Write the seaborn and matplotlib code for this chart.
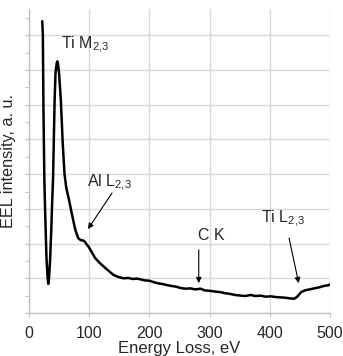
import matplotlib
matplotlib.use("Agg")
import matplotlib.pyplot as plt
import seaborn as sns
import pandas as pd
from matplotlib.ticker import MultipleLocator

energy = [22, 23, 24, 25.5, 27, 29, 31, 32, 33, 35, 37, 38.5, 40, 42.5, 44, 46, 47, 48, 50,
          53, 56, 59, 62, 66, 71, 77, 82, 86, 90, 93, 96, 99, 104, 110, 117, 124, 132,
          140, 148, 157, 165, 172, 180, 185, 192, 200, 207, 213, 220, 228, 236, 244,
          252, 260, 268, 276, 285, 292, 300, 308, 318, 326, 334, 342, 352, 360, 368,
          376, 385, 393, 402, 410, 418, 426, 434, 440, 445, 452, 458, 466, 474, 482,
          490, 497, 502]
intensity = [8.41, 8.0, 5.9, 3.83, 2.8, 1.6, 1.0, 0.84, 0.95, 1.5, 2.4, 3.2, 3.9, 6.1, 6.9,
             7.2, 7.25, 7.2, 6.9, 6.1, 4.9, 4.0, 3.6, 3.3, 2.87, 2.39, 2.15, 2.10, 2.09,
             2.05, 1.97, 1.91, 1.76, 1.58, 1.45, 1.34, 1.22, 1.10, 1.04, 1.00, 1.01,
             0.98, 0.99, 0.97, 0.94, 0.93, 0.89, 0.86, 0.84, 0.81, 0.78, 0.76, 0.72,
             0.70, 0.71, 0.68, 0.70, 0.65, 0.64, 0.62, 0.60, 0.57, 0.55, 0.52, 0.50,
             0.49, 0.52, 0.49, 0.50, 0.47, 0.48, 0.46, 0.45, 0.44, 0.42, 0.41, 0.46,
             0.60, 0.65, 0.68, 0.71, 0.74, 0.78, 0.80, 0.83]

x_ticks = [0, 100, 200, 300, 400, 500]

labels = ["Ti M$_{\\mathregular{2{,}3}}$", "Al L$_{\\mathregular{2{,}3}}$", "C K",
          "Ti L$_{\\mathregular{2{,}3}}$"]
label_xy = [(53, 7.72), (97, 3.75), (280, 2.22), (385, 2.71)]
arrow_tail = [None, (138, 3.46), (282, 1.82), (432, 2.16)]
arrow_head = [None, (98, 2.42), (282, 0.86), (448, 0.86)]

sns.set_style("white")
plt.rcParams["font.family"] = ["Liberation Sans", "DejaVu Sans"]
plt.rcParams["mathtext.fontset"] = "custom"
plt.rcParams["mathtext.rm"] = "Liberation Sans"
plt.rcParams["mathtext.it"] = "Liberation Sans"
plt.rcParams["mathtext.default"] = "regular"

fig = plt.figure(figsize=(3.43, 3.56), dpi=100)
ax = fig.add_axes([29/343, 43/356, 301/343, 304/356])

df = pd.DataFrame({"energy": energy, "intensity": intensity})
sns.lineplot(data=df, x="energy", y="intensity", ax=ax, color="black", linewidth=1.8,
             sort=False, estimator=None)

ax.set_xlim(0, 500)
ax.set_ylim(0, 8.76)
ax.set_xticks(x_ticks)
ax.yaxis.set_major_locator(MultipleLocator(1))
ax.yaxis.set_minor_locator(MultipleLocator(0.5))
ax.set_yticklabels([])
ax.grid(True, which="major", color="#d9d9d9", linewidth=1.0)
ax.set_axisbelow(True)
for s in ["top", "right"]:
    ax.spines[s].set_visible(False)
for s in ["left", "bottom"]:
    ax.spines[s].set_color("#bfbfbf")
    ax.spines[s].set_linewidth(1.0)
ax.tick_params(axis="x", which="major", direction="out", length=3, color="#bfbfbf",
               labelsize=11.5, pad=6, bottom=True)
ax.tick_params(axis="y", which="both", direction="out", length=3, color="#bfbfbf",
               left=True, labelleft=False)

ax.set_xlabel("Energy Loss, eV", fontsize=12, labelpad=0)
ax.set_ylabel("EEL intensity, a. u.", fontsize=11.7, labelpad=6)

for lab, xy, tail, head in zip(labels, label_xy, arrow_tail, arrow_head):
    ax.text(xy[0], xy[1], lab, fontsize=11.5, ha="left", va="center")
    if tail is not None:
        ax.annotate("", xy=head, xytext=tail,
                    arrowprops=dict(arrowstyle="-|>", color="black", lw=0.8,
                                    mutation_scale=8, shrinkA=0, shrinkB=0))

fig.savefig("out.png", dpi=100)
